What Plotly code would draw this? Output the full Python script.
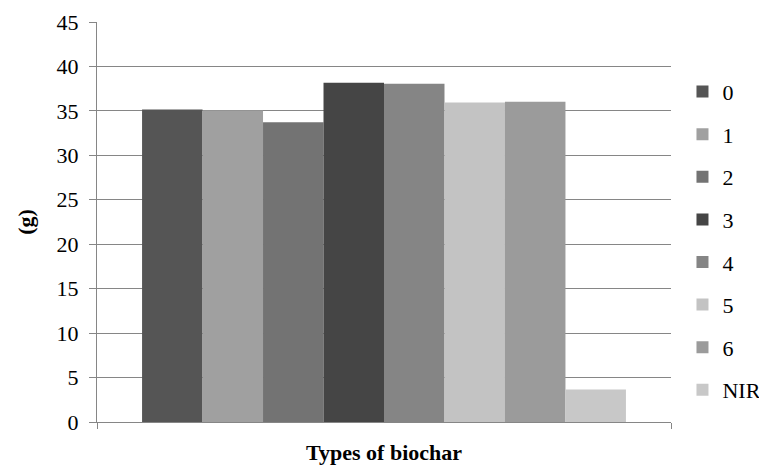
import plotly.graph_objects as go

series_names = ["0", "1", "2", "3", "4", "5", "6", "NIR"]
values = [35.15, 35.03, 33.72, 38.17, 38.06, 35.93, 36.04, 3.65]
colors = ["#555555", "#a0a0a0", "#737373", "#454545", "#858585", "#c3c3c3", "#9b9b9b", "#c8c8c8"]
y_ticks = [0, 5, 10, 15, 20, 25, 30, 35, 40, 45]

fig = go.Figure()
for i, (name, v, c) in enumerate(zip(series_names, values, colors)):
    fig.add_trace(go.Bar(
        x=[0], y=[v], name=name, marker=dict(color=c, line=dict(width=0)),
        legendgroup=name,
    ))

font = "Liberation Serif"
fs = 22
fig.update_layout(
    width=759, height=469,
    margin=dict(l=97, r=88, t=22, b=47, autoexpand=False),
    plot_bgcolor="white", paper_bgcolor="white",
    barmode="group", bargap=0.157, bargroupgap=0,
    font=dict(family=font, size=fs, color="black"),
    showlegend=True,
    legend=dict(x=1.02, xanchor="left", y=0.878, yanchor="top",
                font=dict(family=font, size=fs, color="black"),
                tracegroupgap=11, bgcolor="rgba(0,0,0,0)", itemwidth=30),
    xaxis=dict(range=[-0.5, 0.5], tickvals=[-0.5, 0.5], ticktext=["", ""],
               ticks="outside", ticklen=6, tickcolor="#868686",
               showline=True, linecolor="#868686", linewidth=1,
               showgrid=False, zeroline=False, fixedrange=True,
               title=dict(text="<b>Types of biochar</b>", standoff=12,
                          font=dict(family=font, size=fs, color="black"))),
    yaxis=dict(range=[0, 45], tickvals=y_ticks, ticks="outside", ticklen=7,
               tickcolor="#868686", showline=True, linecolor="#868686", linewidth=1,
               showgrid=True, gridcolor="#868686", gridwidth=1, zeroline=False,
               ticklabelstandoff=6,
               tickfont=dict(family=font, size=fs, color="black"),
               title=dict(text="<b>(g)</b>", standoff=16,
                          font=dict(family=font, size=fs, color="black"))),
)

fig.write_html("out.html")
